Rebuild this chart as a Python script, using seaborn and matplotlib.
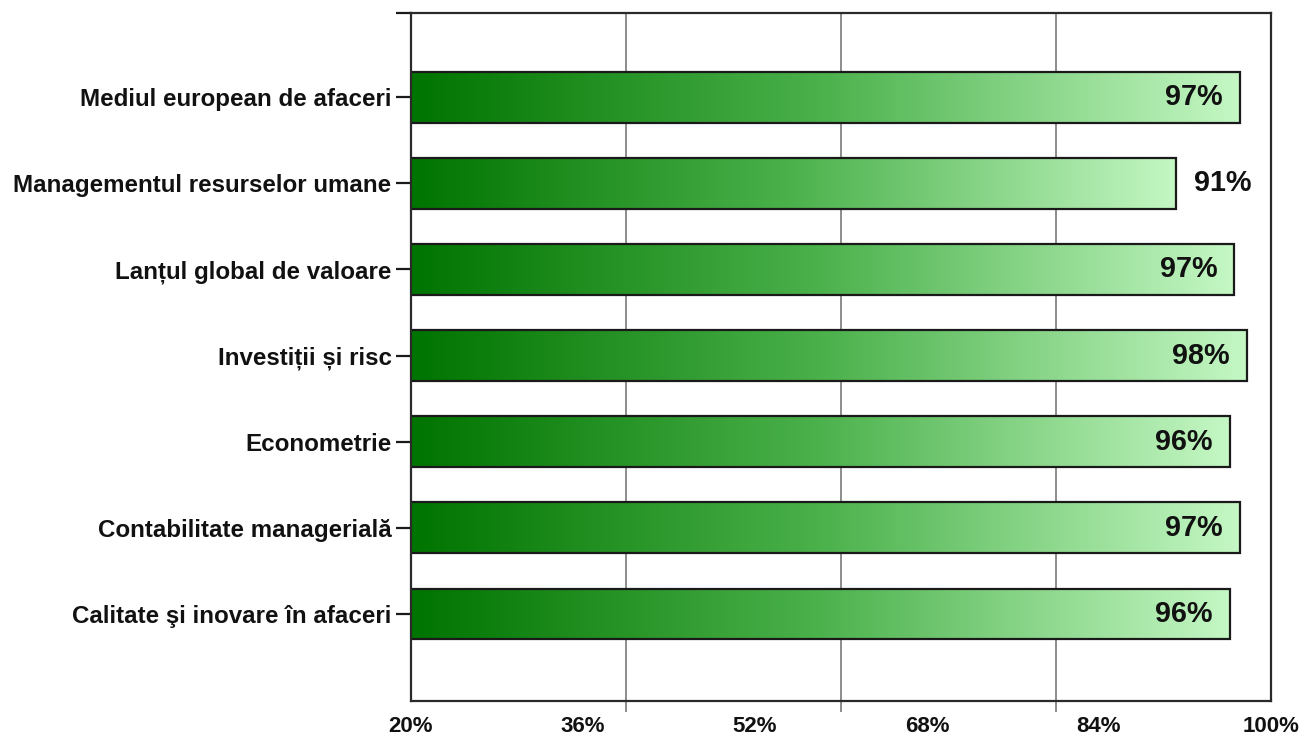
import matplotlib
matplotlib.use("Agg")

import numpy as np
import pandas as pd
import matplotlib.pyplot as plt
import seaborn as sns
from matplotlib.colors import LinearSegmentedColormap

# Data
courses = [
    "Mediul european de afaceri",
    "Managementul resurselor umane",
    "Lanțul global de valoare",
    "Investiții și risc",
    "Econometrie",
    "Contabilitate managerială",
    "Calitate şi inovare în afaceri",
]
scores = [97.1, 91.2, 96.6, 97.8, 96.2, 97.1, 96.2]
x_ticks = [20, 36, 52, 68, 84, 100]
# the original chart draws its grid on a different division than its labels
grid_ticks = [20, 40, 60, 80, 100]

sns.set_theme(style="white")
plt.rcParams['font.family'] = ['Liberation Sans', 'DejaVu Sans']
plt.rcParams['font.weight'] = 'bold'

df = pd.DataFrame({"course": courses, "score": scores})

fig = plt.figure(figsize=(13.03, 7.42), dpi=100)
ax = fig.add_axes([0.3154, 0.0553, 0.66, 0.927])

ax.set_xlim(20, 100)
ax.set_xticks(x_ticks)
ax.set_xticks(grid_ticks, minor=True)
ax.set_axisbelow(True)

sns.barplot(data=df, x="score", y="course", orient="h", ax=ax,
            width=0.59, color="white", edgecolor="#1a1a1a", linewidth=1.6)

# gradient fill clipped to each bar
green = LinearSegmentedColormap.from_list("green_grad", ["#007400", "#4cb24c", "#c4f7c4"])
grad = np.linspace(0, 1, 256).reshape(1, -1)
for patch, val in zip(ax.patches, df["score"]):
    y0 = patch.get_y()
    h = patch.get_height()
    im = ax.imshow(grad, extent=[20, val, y0 + h, y0], aspect='auto', cmap=green,
                   zorder=patch.get_zorder() + 0.1, interpolation='bicubic')
    im.set_clip_path(patch)
    patch.set_zorder(patch.get_zorder() + 0.2)
    patch.set_facecolor('none')

ax.set_xlim(20, 100)
ax.set_ylim(7.01, -0.975)
ax.xaxis.grid(True, which='minor', color='#8c8c8c', linewidth=1.4)
ax.xaxis.grid(False, which='major')

# value labels
for i, val in enumerate(df["score"]):
    txt = f"{round(val)}%"
    if val < 95:
        ax.text(val + 1.6, i, txt, ha='left', va='center', fontsize=20.7,
                fontweight='bold', color='#111111', zorder=5)
    else:
        ax.text(val - 1.6, i, txt, ha='right', va='center', fontsize=20.7,
                fontweight='bold', color='#111111', zorder=5)

ax.set_xticklabels([f"{t}%" for t in x_ticks], fontsize=16, fontweight='bold', color='#111111')
ax.set_yticklabels(courses, fontsize=17.4, fontweight='bold', color='#111111')
ax.set_xlabel("")
ax.set_ylabel("")

ax.tick_params(axis='x', which='major', bottom=True, length=0, pad=10.5)
ax.tick_params(axis='x', which='minor', bottom=True, length=8, width=1.4, color='#8c8c8c')
ax.tick_params(axis='y', left=True, length=11, width=1.6, color='#1a1a1a', pad=3)
ax.set_yticks([-0.975], minor=True)
ax.tick_params(axis='y', which='minor', left=True, length=11, width=1.6, color='#1a1a1a')

for side in ['left', 'right', 'top', 'bottom']:
    ax.spines[side].set_visible(True)
    ax.spines[side].set_color('#2a2a2a')
    ax.spines[side].set_linewidth(1.6)

fig.savefig("out.png", dpi=100)
